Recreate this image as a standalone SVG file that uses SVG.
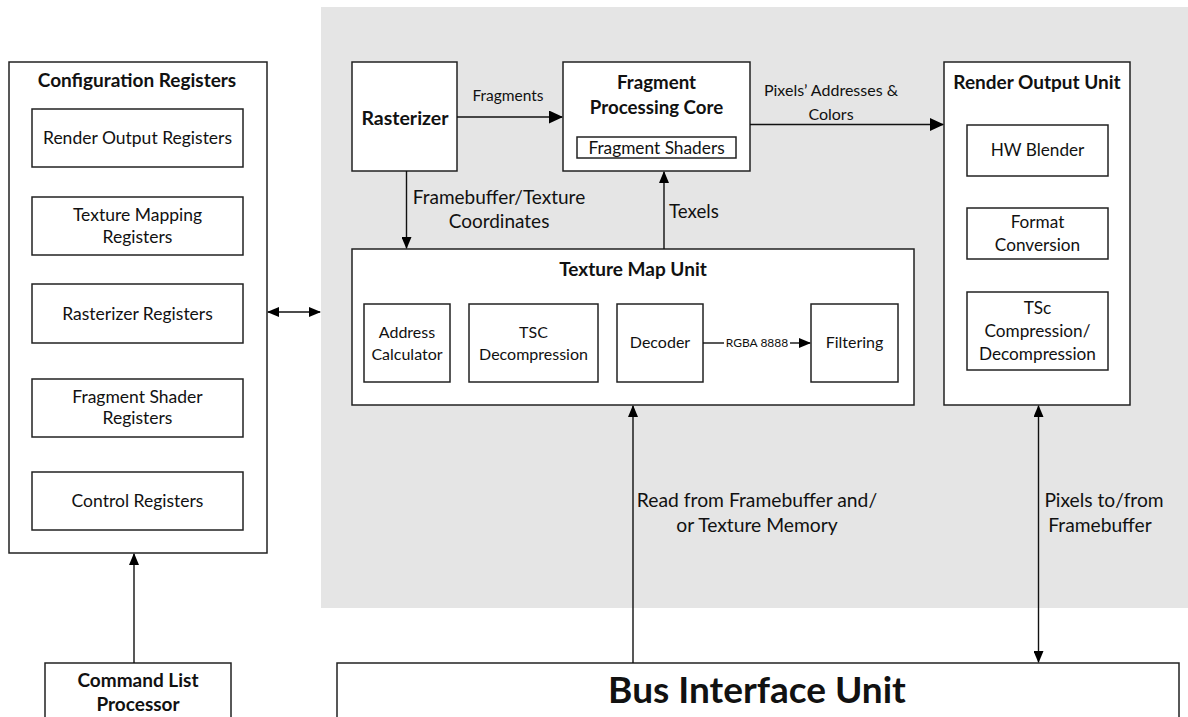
<svg xmlns="http://www.w3.org/2000/svg" width="1188" height="717" viewBox="0 0 1188 717">
<defs>
<marker id="ah" markerUnits="userSpaceOnUse" markerWidth="12" markerHeight="10" refX="11" refY="5" orient="auto-start-reverse">
<path d="M0,0 L12,5 L0,10 Z" fill="#000"/>
</marker>
<marker id="ahL" markerUnits="userSpaceOnUse" markerWidth="14" markerHeight="13" refX="13" refY="6.5" orient="auto-start-reverse">
<path d="M0,0 L14,6.5 L0,13 Z" fill="#000"/>
</marker>
<style>
.box{fill:#fff;stroke:#222;stroke-width:1.5}
.ln{stroke:#111;stroke-width:1.4;fill:none}
text{font-family:Lato,"Open Sans","Liberation Sans",sans-serif;fill:#111;text-anchor:middle}
.b{font-weight:bold}
.t{font-size:17.5px}
.r{font-size:17.2px}
.s{font-size:16px}
.h{font-size:19px;font-weight:bold}
</style>
</defs>
<rect width="1188" height="717" fill="#fff"/>
<rect x="321" y="7" width="867" height="601" fill="#e5e5e5"/>

<g id="config-registers">
<rect class="box" x="9" y="62" width="258" height="491"/>
<text class="h" x="137" y="86.7">Configuration Registers</text>
</g>
<g id="render-output-registers">
<rect class="box" x="32" y="109" width="211" height="58"/>
<text class="t" x="137.5" y="144">Render Output Registers</text>
</g>
<g id="texture-mapping-registers">
<rect class="box" x="32" y="197" width="211" height="58"/>
<text class="t" x="137.5" y="221">Texture Mapping</text>
<text class="t" x="137.5" y="242.8">Registers</text>
</g>
<g id="rasterizer-registers">
<rect class="box" x="32" y="284" width="211" height="59"/>
<text class="t" x="137.5" y="319.5">Rasterizer Registers</text>
</g>
<g id="fragment-shader-registers">
<rect class="box" x="32" y="379" width="211" height="58"/>
<text class="t" x="137.5" y="402.8">Fragment Shader</text>
<text class="t" x="137.5" y="424.4">Registers</text>
</g>
<g id="control-registers">
<rect class="box" x="32" y="472" width="211" height="58"/>
<text class="t" x="137.5" y="506.8">Control Registers</text>
</g>
<g id="command-list-processor">
<rect class="box" x="45" y="663" width="186" height="60"/>
<text class="h" x="138" y="686.7">Command List</text>
<text class="h" x="138" y="711">Processor</text>
</g>

<g id="rasterizer">
<rect class="box" x="352" y="62" width="105" height="109"/>
<text class="b" x="405" y="124.5" font-size="19.5">Rasterizer</text>
</g>
<g id="fragment-processing-core">
<rect class="box" x="563" y="62" width="187" height="109"/>
<text class="b" x="656.5" y="88.5" font-size="18.7">Fragment</text>
<text class="b" x="656.5" y="113.5" font-size="18.7">Processing Core</text>
<rect class="box" x="577" y="137" width="159" height="21"/>
<text x="656.5" y="154" font-size="17.3">Fragment Shaders</text>
</g>
<g id="render-output-unit">
<rect class="box" x="944" y="62" width="186" height="343"/>
<text class="h" x="1037" y="88.8" font-size="19.3">Render Output Unit</text>
</g>
<g id="hw-blender">
<rect class="box" x="967" y="125" width="141" height="51"/>
<text class="r" x="1037.5" y="156">HW Blender</text>
</g>
<g id="format-conversion">
<rect class="box" x="967" y="208" width="141" height="51"/>
<text class="r" x="1037.5" y="227.7">Format</text>
<text class="r" x="1037.5" y="251">Conversion</text>
</g>
<g id="tsc-compression">
<rect class="box" x="967" y="292" width="141" height="78"/>
<text class="r" x="1037.5" y="313.7">TSc</text>
<text class="r" x="1037.5" y="337">Compression/</text>
<text class="r" x="1037.5" y="360">Decompression</text>
</g>
<g id="texture-map-unit">
<rect class="box" x="352" y="249" width="562" height="156"/>
<text class="h" x="633" y="275.7">Texture Map Unit</text>
</g>
<g id="address-calculator">
<rect class="box" x="364" y="304" width="86" height="78"/>
<text class="s" x="407" y="338.3">Address</text>
<text class="s" x="407" y="359.6">Calculator</text>
</g>
<g id="tsc-decompression">
<rect class="box" x="469" y="304" width="129" height="78"/>
<text class="s" x="533.5" y="338.3">TSC</text>
<text class="s" x="533.5" y="359.6">Decompression</text>
</g>
<g id="decoder">
<rect class="box" x="617" y="304" width="86" height="78"/>
<text class="s" x="660" y="348.3">Decoder</text>
</g>
<g id="filtering">
<rect class="box" x="811" y="304" width="87" height="78"/>
<text class="s" x="854.5" y="348.3">Filtering</text>
</g>
<g id="bus-interface-unit">
<rect class="box" x="337" y="663" width="842" height="60"/>
<text class="b" x="757" y="703.3" font-size="37">Bus Interface Unit</text>
</g>

<g id="connectors">
<line class="ln" x1="268" y1="312" x2="320" y2="312" marker-start="url(#ah)" marker-end="url(#ah)"/>
<line class="ln" x1="134" y1="663" x2="134" y2="554" marker-end="url(#ah)"/>
<line class="ln" x1="457" y1="117" x2="562" y2="117" marker-end="url(#ahL)"/>
<text x="508" y="100.5" font-size="15.5">Fragments</text>
<line class="ln" x1="406.5" y1="171" x2="406.5" y2="248" marker-end="url(#ah)"/>
<text x="499" y="204.3" font-size="19">Framebuffer/Texture</text>
<text x="499" y="228.3" font-size="19">Coordinates</text>
<line class="ln" x1="664" y1="249" x2="664" y2="172" marker-end="url(#ah)"/>
<text x="694" y="217.5" font-size="18.7">Texels</text>
<line class="ln" x1="750" y1="124.5" x2="943" y2="124.5" marker-end="url(#ahL)"/>
<text x="831" y="96.3" font-size="16">Pixels’ Addresses &amp;</text>
<text x="831" y="119.6" font-size="16">Colors</text>
<line class="ln" x1="703" y1="343" x2="724" y2="343"/>
<line class="ln" x1="790" y1="343" x2="810" y2="343" marker-end="url(#ah)"/>
<text x="757" y="347.2" font-size="12">RGBA 8888</text>
<line class="ln" x1="633" y1="663" x2="633" y2="406" marker-end="url(#ah)"/>
<text x="757" y="506.7" font-size="19.3">Read from Framebuffer and/</text>
<text x="757" y="531.7" font-size="19.3">or Texture Memory</text>
<line class="ln" x1="1038.5" y1="406" x2="1038.5" y2="662" marker-start="url(#ah)" marker-end="url(#ah)"/>
<text x="1104" y="506.7" font-size="19.2">Pixels to/from</text>
<text x="1100" y="531.7" font-size="19.2">Framebuffer</text>
</g>
</svg>
